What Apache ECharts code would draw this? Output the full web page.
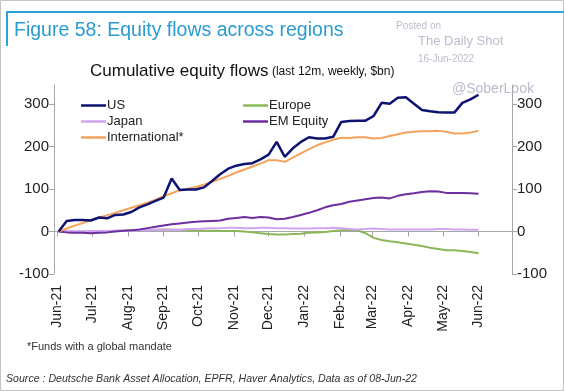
<!DOCTYPE html>
<html>
<head>
<meta charset="utf-8">
<script src="https://cdn.jsdelivr.net/npm/echarts@6/dist/echarts.min.js"></script>
<style>
html,body{margin:0;padding:0;background:#fff;}
#chart{width:564px;height:391px;}
</style>
</head>
<body>
<div id="chart"></div>
<script>
const weeks = [
 '2021-06-02','2021-06-09','2021-06-16','2021-06-23','2021-06-30',
 '2021-07-07','2021-07-14','2021-07-21','2021-07-28',
 '2021-08-04','2021-08-11','2021-08-18','2021-08-25',
 '2021-09-01','2021-09-08','2021-09-15','2021-09-22','2021-09-29',
 '2021-10-06','2021-10-13','2021-10-20','2021-10-27',
 '2021-11-03','2021-11-10','2021-11-17','2021-11-24',
 '2021-12-01','2021-12-08','2021-12-15','2021-12-22','2021-12-29',
 '2022-01-05','2022-01-12','2022-01-19','2022-01-26',
 '2022-02-02','2022-02-09','2022-02-16','2022-02-23',
 '2022-03-02','2022-03-09','2022-03-16','2022-03-23','2022-03-30',
 '2022-04-06','2022-04-13','2022-04-20','2022-04-27',
 '2022-05-04','2022-05-11','2022-05-18','2022-05-25',
 '2022-06-01'
];
const us = [0,25,27,27,26,33,31,39,40,46,57,64,72,80,125,98,99,99,104,119,135,148,155,159,161,170,
 181,211,176,196,211,222,219,219,223,258,260,261,261,272,303,301,315,316,301,286,283,281,280,280,303,311,322];
const europe = [0,0,-1,0,0,1,1,2,2,3,3,4,4,5,4,4,3,2,2,2,1,1,1,0,-2,-4,
 -6,-7,-7,-6,-5,-3,-2,-1,1,3,4,3,-4,-15,-20,-23,-25,-28,-31,-34,-38,-41,-44,-44,-46,-48,-51];
const japan = [0,1,1,0,1,1,1,2,2,2,3,3,4,5,4,4,6,6,7,8,8,9,9,8,8,9,
 9,8,8,7,7,7,8,8,9,8,6,5,6,7,6,5,5,5,5,5,5,6,6,5,5,4,4];
const emEquity = [0,-2,-3,-3,-4,-3,-2,0,2,3,5,8,11,14,17,19,21,23,24,25,26,30,32,34,32,34,
 33,29,30,34,39,44,50,57,62,65,70,73,76,79,80,78,84,88,90,93,95,94,91,91,91,90,89];
const international = [0,7,14,20,27,33,38,44,50,56,62,68,75,83,90,97,101,105,110,117,124,131,139,146,153,160,
 168,168,164,174,184,194,203,210,216,221,220,222,222,219,220,225,229,233,235,236,236,237,235,231,231,233,237];
const yTicks = [-100,0,100,200,300];

const pair = arr => arr.map((v,i)=>[weeks[i], v]);
const chart = echarts.init(document.getElementById('chart'), null, {renderer:'canvas'});
const FONT = 'Liberation Sans, Arial, sans-serif';
const axisGray = '#a6a6a6';
const xBase = {
  type:'time', min:'2021-05-29', max:'2022-06-30',
  minInterval: 28*86400000, maxInterval: 31*86400000,
  splitLine:{show:false}
};
const yBase = {
  type:'value', min:-100, max:345,
  splitLine:{show:false},
  axisLine:{show:true, onZero:false, lineStyle:{color:axisGray, width:1}},
  axisTick:{show:true, length:5, customValues:yTicks, lineStyle:{color:axisGray}},
  axisLabel:{customValues:yTicks, color:'#222', fontSize:15, fontFamily:FONT, margin:5}
};
const legendBase = {
  orient:'vertical', top:94, icon:'rect', itemWidth:25, itemHeight:2.5, itemGap:3,
  textStyle:{fontSize:13, fontFamily:FONT, color:'#222', padding:[0,0,0,-4]}
};
const line = (name, data, color, w, z) => ({
  name, type:'line', data:pair(data), showSymbol:false, symbol:'none', z,
  lineStyle:{color, width:w}, itemStyle:{color}, xAxisIndex:0, yAxisIndex:0, animation:false
});
chart.setOption({
  animation:false,
  grid:{left:54, right:52, top:85, bottom:117},
  xAxis:[
    Object.assign({}, xBase, {
      position:'bottom',
      axisLine:{show:true, onZero:true, lineStyle:{color:axisGray}},
      axisTick:{show:true, length:5, lineStyle:{color:axisGray}},
      axisLabel:{show:false}
    }),
    Object.assign({}, xBase, {
      position:'bottom',
      axisLine:{show:false, onZero:false},
      axisTick:{show:false},
      axisLabel:{show:true, rotate:90, formatter:'{MMM}-{yy}', color:'#222', fontSize:14, fontFamily:FONT, margin:11}
    })
  ],
  yAxis:[
    Object.assign({}, yBase, {position:'left'}),
    Object.assign({}, yBase, {position:'right'})
  ],
  legend:[
    Object.assign({}, legendBase, {left:76, data:['US','Japan','International*']}),
    Object.assign({}, legendBase, {left:238, data:['Europe','EM Equity']})
  ],
  series:[
    line('Europe', europe, '#8db65a', 2, 2),
    line('Japan', japan, '#d1a5f2', 2, 3),
    line('EM Equity', emEquity, '#6b2f9e', 2, 4),
    line('International*', international, '#f5a25d', 2, 5),
    line('US', us, '#0d1273', 2.5, 6)
  ],
  graphic:[
    {type:'rect', shape:{x:0.5,y:0.5,width:563,height:390}, style:{fill:'none', stroke:'#c4c4c4', lineWidth:1}, silent:true},
    {type:'rect', shape:{x:6,y:11,width:558,height:2}, style:{fill:'#2aa3d6'}, silent:true},
    {type:'rect', shape:{x:6,y:11,width:2,height:35}, style:{fill:'#2aa3d6'}, silent:true},
    {type:'text', left:14, top:21, style:{text:'Figure 58: Equity flows across regions', fill:'#2a9bd0', font:'19.5px '+FONT}},
    {type:'text', left:396, top:21, style:{text:'Posted on', fill:'#b9bccb', font:'10px '+FONT}},
    {type:'text', left:418, top:35, style:{text:'The Daily Shot', fill:'#b9bccb', font:'13px '+FONT}},
    {type:'text', left:418, top:54, style:{text:'16-Jun-2022', fill:'#b9bccb', font:'10px '+FONT}},
    {type:'text', left:452, top:82, style:{text:'@SoberLook', fill:'#b9bccb', font:'14px '+FONT}},
    {type:'text', left:90, top:63, style:{
      text:'{a|Cumulative equity flows} {b|(last 12m, weekly, $bn)}',
      rich:{a:{fontSize:17, fontFamily:FONT, fill:'#111'}, b:{fontSize:12, fontFamily:FONT, fill:'#111'}}
    }},
    {type:'text', left:27, top:341, style:{text:'*Funds with a global mandate', fill:'#333', font:'11px '+FONT}},
    {type:'text', left:6, top:374, style:{text:'Source : Deutsche Bank Asset Allocation, EPFR, Haver Analytics, Data as of 08-Jun-22', fill:'#333', font:'italic 10.6px '+FONT}}
  ]
});
</script>
</body>
</html>
